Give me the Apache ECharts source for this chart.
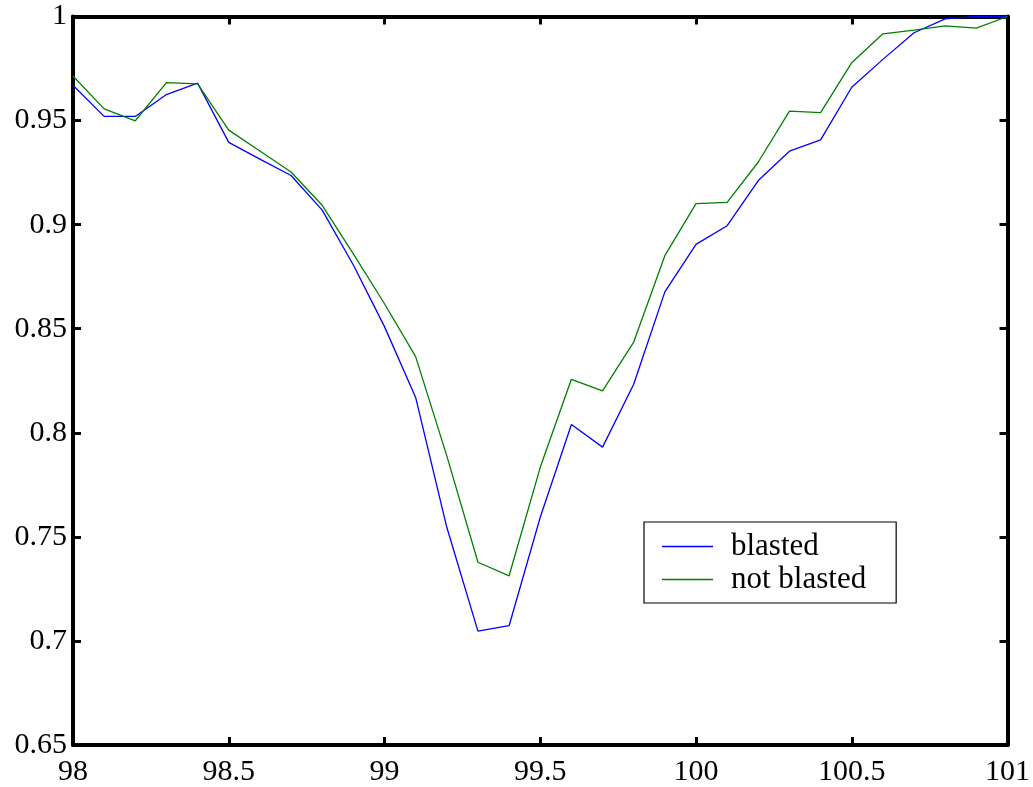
<!DOCTYPE html>
<html>
<head>
<meta charset="utf-8">
<script src="https://cdn.jsdelivr.net/npm/echarts@6/dist/echarts.min.js"></script>
<style>
html,body{margin:0;padding:0;background:#fff;}
#chart{width:1033px;height:787px;}
</style>
</head>
<body>
<div id="chart"></div>
<script>
// Data
const xValues = [98.0, 98.1, 98.2, 98.3, 98.4, 98.5, 98.6, 98.7, 98.8, 98.9,
                 99.0, 99.1, 99.2, 99.3, 99.4, 99.5, 99.6, 99.7, 99.8, 99.9,
                 100.0, 100.1, 100.2, 100.3, 100.4, 100.5, 100.6, 100.7, 100.8, 100.9, 101.0];
const blasted = [0.967, 0.952, 0.952, 0.9625, 0.968, 0.9395, 0.9315, 0.9236, 0.907, 0.8806,
                 0.851, 0.817, 0.7546, 0.7047, 0.7073, 0.7594, 0.804, 0.7931, 0.8233, 0.8677,
                 0.8905, 0.8995, 0.9212, 0.9353, 0.9407, 0.966, 0.9794, 0.9922, 0.9989, 1.0, 1.0];
const notBlasted = [0.9714, 0.9556, 0.9499, 0.9682, 0.9676, 0.9454, 0.9354, 0.9253, 0.9093, 0.886,
                    0.862, 0.8366, 0.7889, 0.7378, 0.7313, 0.7834, 0.8257, 0.8201, 0.8436, 0.8851,
                    0.9101, 0.9107, 0.9301, 0.9545, 0.9538, 0.9778, 0.9917, 0.9935, 0.9955, 0.9944, 1.0];
const seriesNames = ['blasted', 'not blasted'];
const xTicks = [98, 98.5, 99, 99.5, 100, 100.5, 101];
const yTicks = [0.65, 0.7, 0.75, 0.8, 0.85, 0.9, 0.95, 1];

const FONT = "'Liberation Serif', 'Times New Roman', serif";
const pair = (ys) => xValues.map((x, i) => [x, ys[i]]);
const fmtX = (v) => String(Math.round(v * 10) / 10);
const fmtY = (v) => String(Math.round(v * 100) / 100);

const chart = echarts.init(document.getElementById('chart'), null, {renderer: 'canvas'});
const axisLine = {show: true, onZero: false, lineStyle: {color: '#000', width: 4}};
const axisTick = {show: true, inside: true, length: 8, lineStyle: {color: '#000', width: 3}};

chart.setOption({
  animation: false,
  backgroundColor: '#fff',
  grid: {left: 73, right: 23, top: 16.5, bottom: 42, containLabel: false},
  xAxis: [
    {type: 'value', position: 'bottom', min: 98, max: 101, interval: 0.5,
     axisLine, axisTick, splitLine: {show: false},
     axisLabel: {show: true, color: '#000', fontFamily: FONT, fontSize: 30, margin: 12,
                 formatter: fmtX, showMinLabel: true, showMaxLabel: true}},
    {type: 'value', position: 'top', min: 98, max: 101, interval: 0.5,
     axisLine, axisTick, splitLine: {show: false}, axisLabel: {show: false}}
  ],
  yAxis: [
    {type: 'value', position: 'left', min: 0.65, max: 1, interval: 0.05,
     axisLine, axisTick, splitLine: {show: false},
     axisLabel: {show: true, color: '#000', fontFamily: FONT, fontSize: 30, margin: 6,
                 formatter: fmtY, showMinLabel: true, showMaxLabel: true}},
    {type: 'value', position: 'right', min: 0.65, max: 1, interval: 0.05,
     axisLine, axisTick, splitLine: {show: false}, axisLabel: {show: false}}
  ],
  legend: {
    orient: 'vertical', left: 644, top: 522,
    data: seriesNames,
    icon: 'rect', itemWidth: 51, itemHeight: 1.5, itemGap: 2,
    borderColor: '#000', borderWidth: 1.2, borderRadius: 0,
    padding: [9, 30, 8, 18],
    textStyle: {color: '#000', fontFamily: FONT, fontSize: 31, padding: [0, 0, 0, 13]}
  },
  series: [
    {name: seriesNames[0], type: 'line', data: pair(blasted), showSymbol: false, symbol: 'none',
     xAxisIndex: 0, yAxisIndex: 0,
     lineStyle: {color: '#0000ff', width: 1.3}, itemStyle: {color: '#0000ff'}, clip: false},
    {name: seriesNames[1], type: 'line', data: pair(notBlasted), showSymbol: false, symbol: 'none',
     xAxisIndex: 0, yAxisIndex: 0,
     lineStyle: {color: '#008000', width: 1.3}, itemStyle: {color: '#008000'}, clip: false}
  ]
});
</script>
</body>
</html>
